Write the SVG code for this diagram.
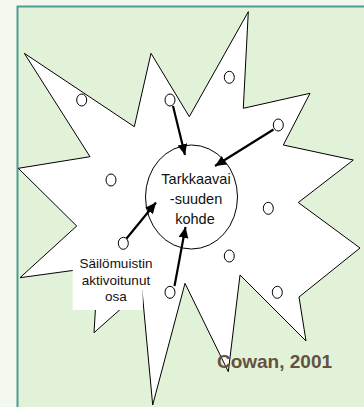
<svg xmlns="http://www.w3.org/2000/svg" width="364" height="407" viewBox="0 0 364 407">
<defs>
<style>
.star{fill:#ffffff;stroke:#000000;stroke-width:1;stroke-linejoin:miter}
.dot{fill:#ffffff;stroke:#000000;stroke-width:1}
.arr{stroke:#000000;stroke-width:2.2;fill:none}
.t{font-family:"Liberation Sans",Arial,sans-serif;fill:#111111;text-anchor:middle}
</style>
<marker id="ah" markerUnits="userSpaceOnUse" markerWidth="12" markerHeight="10" refX="11" refY="5" orient="auto">
<path d="M0,0 L11,5 L0,10 Z" fill="#000000"/>
</marker>
</defs>
<rect x="0" y="0" width="364" height="407" fill="#f3f8ef"/>
<rect x="17.5" y="6.5" width="360" height="410" fill="#e2f2d8"/>
<path d="M17.5,407 L17.5,6.5 L364,6.5" fill="none" stroke="#4e9c90" stroke-width="2"/>
<g id="star">
<polygon class="star" points="24.3,53.3 134.3,126.7 151,53.3 189.3,116.7 248.3,11.7 243.3,108.3 310,93.3 283.3,145 353.3,160 298.3,202.5 360,248 299,297 306,341 240,275 228.3,371.7 185,283.3 152.7,405 142,290 94,332.7 98,267 20,277.7 76.7,226 18.3,168.3 90,156.7"/>
</g>
<g id="dots">
<ellipse class="dot" cx="81.7" cy="100" rx="5" ry="6"/>
<ellipse class="dot" cx="170" cy="100" rx="5" ry="6"/>
<ellipse class="dot" cx="229.3" cy="77.3" rx="5" ry="6"/>
<ellipse class="dot" cx="278.3" cy="125" rx="5" ry="6"/>
<ellipse class="dot" cx="111" cy="180" rx="5" ry="6"/>
<ellipse class="dot" cx="268.3" cy="208.3" rx="5" ry="6"/>
<ellipse class="dot" cx="123.3" cy="243.3" rx="5" ry="6"/>
<ellipse class="dot" cx="229.3" cy="256" rx="5" ry="6"/>
<ellipse class="dot" cx="170" cy="292.3" rx="5" ry="6"/>
<ellipse class="dot" cx="277.3" cy="292.3" rx="5" ry="6"/>
</g>
<g id="focus">
<ellipse cx="191.5" cy="197" rx="46" ry="52" fill="#ffffff" stroke="#000000" stroke-width="1"/>
<text class="t" font-size="14.5" x="196" y="183.5">Tarkkaavai</text>
<text class="t" font-size="14.5" x="196" y="204">-suuden</text>
<text class="t" font-size="14.5" x="195" y="223.5">kohde</text>
</g>
<g id="label">
<rect x="72.7" y="252" width="70" height="58" fill="#ffffff"/>
<text class="t" font-size="13.5" x="116" y="268.3">Säilömuistin</text>
<text class="t" font-size="13.5" x="116" y="285">aktivoitunut</text>
<text class="t" font-size="13.5" x="116" y="300.7">osa</text>
</g>
<g id="connectors">
<line class="arr" x1="173" y1="106" x2="185" y2="155" marker-end="url(#ah)"/>
<line class="arr" x1="273.5" y1="129.5" x2="215" y2="166" marker-end="url(#ah)"/>
<line class="arr" x1="126.5" y1="238.5" x2="156" y2="202.5" marker-end="url(#ah)"/>
<line class="arr" x1="174.5" y1="286" x2="185.5" y2="227" marker-end="url(#ah)"/>
</g>
<g id="credit">
<text x="274.5" y="367.5" font-family="'Liberation Sans',Arial,sans-serif" font-size="19" font-weight="bold" fill="#645240" text-anchor="middle">Cowan, 2001</text>
</g>
</svg>
